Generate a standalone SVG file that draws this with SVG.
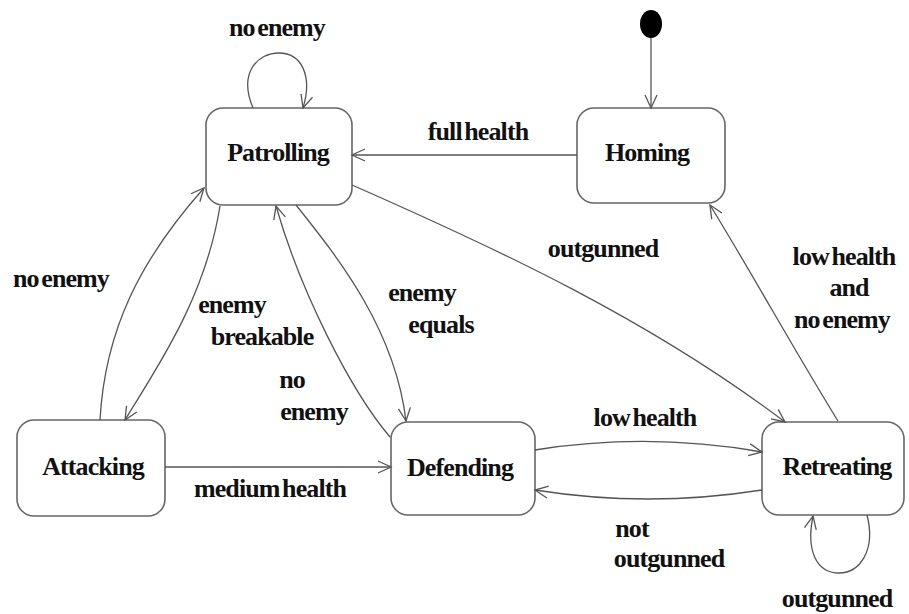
<svg xmlns="http://www.w3.org/2000/svg" width="909" height="614" viewBox="0 0 909 614">
<defs>
<marker id="arr" markerUnits="userSpaceOnUse" markerWidth="16" markerHeight="14" refX="13" refY="6" orient="auto" overflow="visible">
<path d="M0,0 L13,6 L0,12" fill="none" stroke="#555" stroke-width="1.3"/>
</marker>
<style>
.box{fill:#fff;stroke:#666;stroke-width:1.6}
.lbl{font-family:"Liberation Serif",Tinos,"Times New Roman",Times,"Noto Serif","DejaVu Serif",serif;font-weight:700;font-size:26px;letter-spacing:-0.9px;word-spacing:-3px;fill:#111;text-anchor:middle}
.edge{fill:none;stroke:#555;stroke-width:1.3;marker-end:url(#arr)}
</style>
</defs>
<rect width="909" height="614" fill="#fff"/>
<g id="initial">
<ellipse cx="651" cy="24" rx="11" ry="14" fill="#000"/>
</g>
<g id="patrolling">
<rect class="box" x="206" y="108" width="146" height="97" rx="17"/>
<text class="lbl" x="278" y="161">Patrolling</text>
</g>
<g id="homing">
<rect class="box" x="577" y="108" width="148" height="95" rx="17"/>
<text class="lbl" x="647" y="161">Homing</text>
</g>
<g id="attacking">
<rect class="box" x="17" y="420" width="148" height="96" rx="17"/>
<text class="lbl" x="93" y="475">Attacking</text>
</g>
<g id="defending">
<rect class="box" x="391" y="422" width="144" height="93" rx="17"/>
<text class="lbl" x="460" y="476">Defending</text>
</g>
<g id="retreating">
<rect class="box" x="762" y="422" width="142" height="93" rx="17"/>
<text class="lbl" x="837" y="475">Retreating</text>
</g>
<g id="connectors">
<path class="edge" d="M651,38 L651,108"/>
<path class="edge" d="M577,155 L352,155"/>
<path class="edge" d="M253,108 C238,72 258,53 279,53 C301,53 313,75 303,108"/>
<path class="edge" d="M100,420 C105,330 140,260 204,188"/>
<path class="edge" d="M220,206 C205,300 155,370 125,420"/>
<path class="edge" d="M390,437 C350,390 300,290 276,206"/>
<path class="edge" d="M296,205 C340,260 395,330 406,421"/>
<path class="edge" d="M352,185 C500,250 650,320 785,422"/>
<path class="edge" d="M838,421 C800,360 750,270 710,205"/>
<path class="edge" d="M535,450 Q648,432 762,452"/>
<path class="edge" d="M762,490 Q648,508 535,490"/>
<path class="edge" d="M867,515 C876,550 860,573 839,573 C816,573 806,550 813,516"/>
<path class="edge" d="M165,467 L391,467"/>
</g>
<g id="labels">
<text class="lbl" x="277" y="36">no enemy</text>
<text class="lbl" x="478" y="140">full health</text>
<text class="lbl" x="61" y="287">no enemy</text>
<text class="lbl" x="232" y="313">enemy</text>
<text class="lbl" x="262" y="345">breakable</text>
<text class="lbl" x="292" y="388">no</text>
<text class="lbl" x="314" y="420">enemy</text>
<text class="lbl" x="422" y="301">enemy</text>
<text class="lbl" x="441" y="333">equals</text>
<text class="lbl" x="603" y="257">outgunned</text>
<text class="lbl" x="844" y="265">low health</text>
<text class="lbl" x="849" y="296">and</text>
<text class="lbl" x="842" y="328">no enemy</text>
<text class="lbl" x="645" y="426">low health</text>
<text class="lbl" x="270" y="497">medium health</text>
<text class="lbl" x="632" y="537">not</text>
<text class="lbl" x="669" y="567">outgunned</text>
<text class="lbl" x="837" y="607">outgunned</text>
</g>
</svg>
